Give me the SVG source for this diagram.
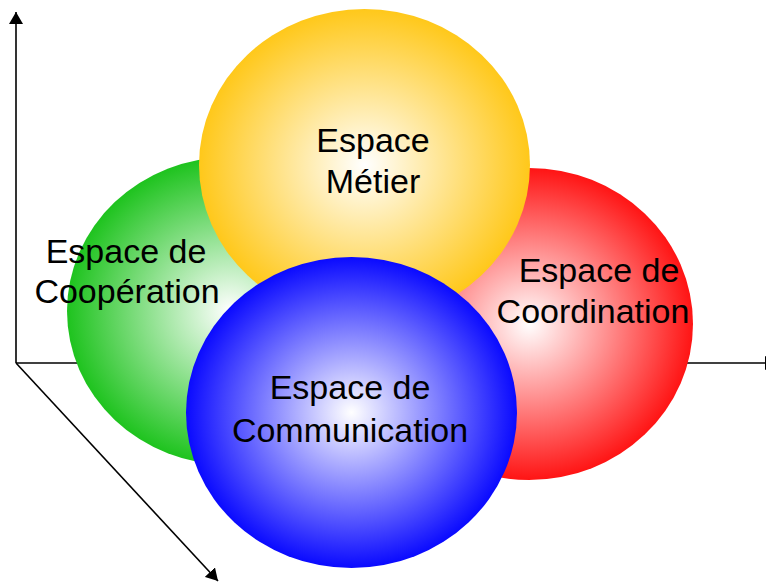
<svg xmlns="http://www.w3.org/2000/svg" width="766" height="583" viewBox="0 0 766 583">
<style>
.axis{stroke:#000;stroke-width:1.6;fill:none}
.lbl{font-family:"Liberation Sans",Arial,sans-serif;font-size:34px;fill:#000;text-anchor:middle}
</style>
<defs>
<marker id="arr" markerWidth="12" markerHeight="14" refX="12" refY="7" orient="auto" markerUnits="userSpaceOnUse">
<path d="M0,0 L12,7 L0,14 Z" fill="#000"/>
</marker>
<radialGradient id="gG" cx="0.5" cy="0.5" r="0.5"><stop offset="0" stop-color="#fff"/><stop offset="1" stop-color="#1ec31e"/></radialGradient>
<radialGradient id="gR" cx="0.5" cy="0.5" r="0.5"><stop offset="0" stop-color="#fff"/><stop offset="1" stop-color="#ff1414"/></radialGradient>
<radialGradient id="gY" cx="0.5" cy="0.5" r="0.5"><stop offset="0" stop-color="#fff"/><stop offset="1" stop-color="#ffc81a"/></radialGradient>
<radialGradient id="gB" cx="0.5" cy="0.5" r="0.5"><stop offset="0" stop-color="#fff"/><stop offset="1" stop-color="#0a0aff"/></radialGradient>
</defs>
<g id="connectors">
<line class="axis" x1="16" y1="363" x2="16" y2="12" marker-end="url(#arr)"/>
<line class="axis" x1="16" y1="363" x2="777" y2="363" marker-end="url(#arr)"/>
<line class="axis" x1="16" y1="363" x2="218" y2="581" marker-end="url(#arr)"/>
</g>
<g id="cooperation">
<ellipse cx="230" cy="311" rx="163" ry="154" fill="url(#gG)"/>
<text class="lbl" x="126" y="263">Espace de</text>
<text class="lbl" x="127" y="303">Coopération</text>
</g>
<g id="coordination">
<ellipse cx="529" cy="324" rx="164" ry="156" fill="url(#gR)"/>
<text class="lbl" x="599" y="282">Espace de</text>
<text class="lbl" x="593" y="323">Coordination</text>
</g>
<g id="metier">
<ellipse cx="364.5" cy="165" rx="165.5" ry="156" fill="url(#gY)"/>
<text class="lbl" x="373" y="152">Espace</text>
<text class="lbl" x="373" y="193">Métier</text>
</g>
<g id="communication">
<ellipse cx="351.5" cy="412.5" rx="165.5" ry="155.5" fill="url(#gB)"/>
<text class="lbl" x="350" y="399">Espace de</text>
<text class="lbl" x="350" y="442">Communication</text>
</g>
</svg>
